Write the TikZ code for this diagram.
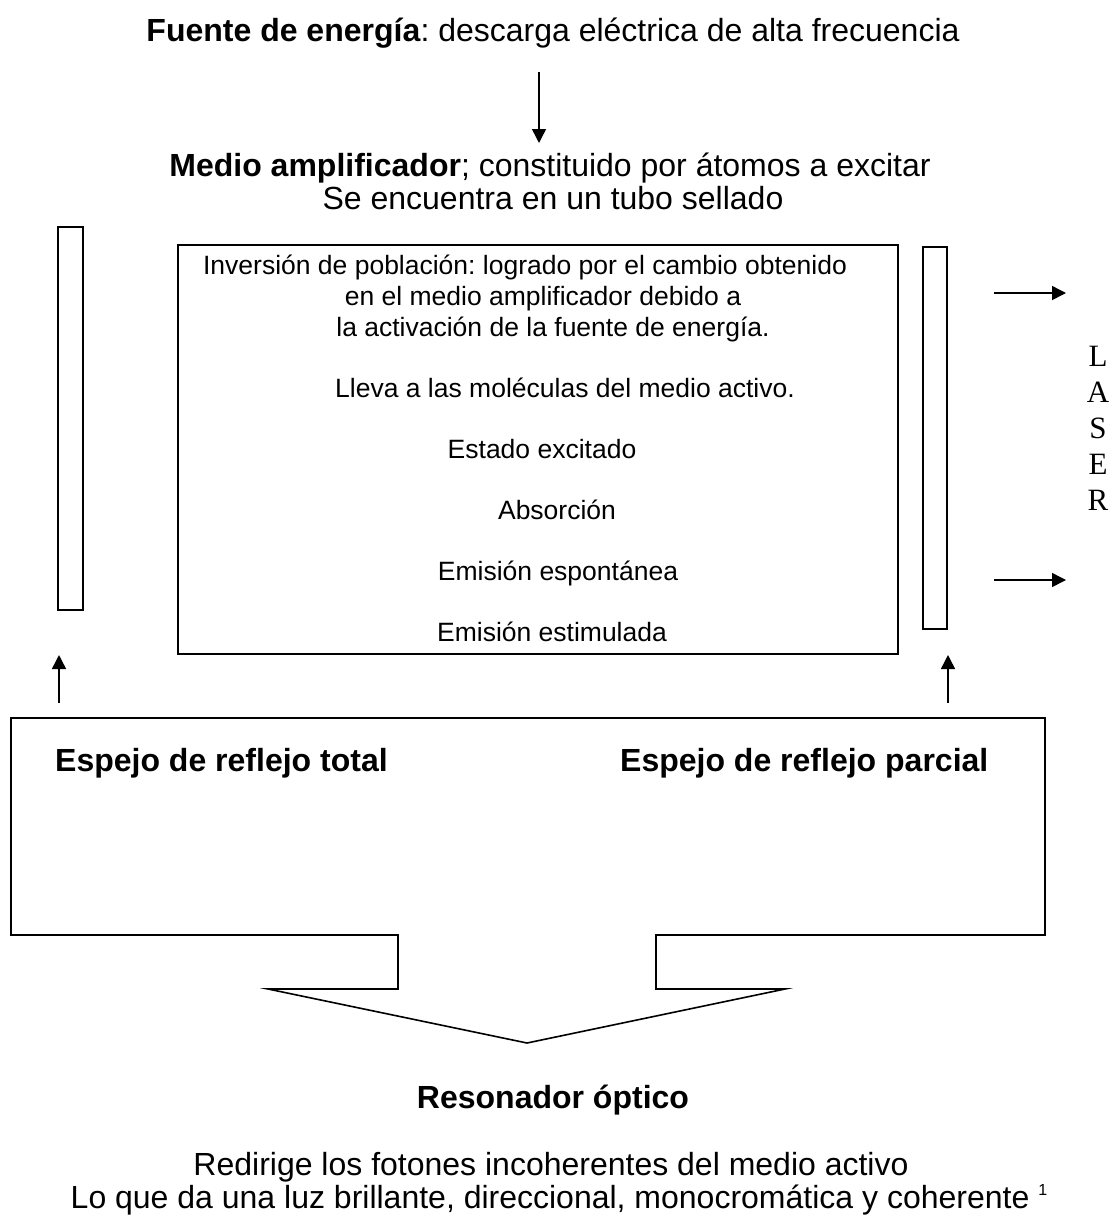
\documentclass[tikz,border=0pt]{standalone}
\usepackage{fontspec}
\setmainfont{Liberation Sans}
\newfontfamily\laserfont{Liberation Serif}
\usetikzlibrary{arrows.meta}
\frenchspacing
\begin{document}
\begin{tikzpicture}[x=1pt,y=-1pt,
  main/.style={inner sep=0pt, anchor=base, font=\fontsize{32}{33}\selectfont},
  mainw/.style={inner sep=0pt, anchor=base west, font=\fontsize{32}{33}\selectfont},
  small/.style={inner sep=0pt, anchor=base, font=\fontsize{26.5}{31}\selectfont},
  arr/.style={-{Triangle[length=14pt,width=14pt]}, line width=1.5pt},
  boxline/.style={draw, line width=1.6pt, inner sep=0pt}]
\useasboundingbox (0,0) rectangle (1119,1221);

% top texts
\node[main] (fuente) at (553,41) {\textbf{Fuente de energía}: descarga eléctrica de alta frecuencia};
\coordinate (a1s) at (539,72);
\coordinate (a1e) at (539,143);
\draw[arr] (a1s) -- (a1e);
\node[main] (medio) at (550,176) {\textbf{Medio amplificador}; constituido por átomos a excitar};
\node[main] (tubo) at (553,209) {Se encuentra en un tubo sellado};

% mirrors and main box
\node[boxline, minimum width=25pt, minimum height=383pt] (lmirror) at (70.5,418.5) {};
\node[boxline, minimum width=24pt, minimum height=382pt] (rmirror) at (935,438) {};
\node[boxline, minimum width=720pt, minimum height=409pt] (medbox) at (538,449.5) {};

\node[small] (t1) at (525,274) {Inversión de población: logrado por el cambio obtenido};
\node[small] (t2) at (543,305) {en el medio amplificador debido a};
\node[small] (t3) at (553,336) {la activación de la fuente de energía.};
\node[small] (t4) at (565,397) {Lleva a las moléculas del medio activo.};
\node[small] (t5) at (542,458) {Estado excitado};
\node[small] (t6) at (557,519) {Absorción};
\node[small] (t7) at (558,580) {Emisión espontánea};
\node[small] (t8) at (552,641) {Emisión estimulada};

% laser output
\coordinate (o1s) at (994,293);
\coordinate (o1e) at (1066,293);
\coordinate (o2s) at (994,580);
\coordinate (o2e) at (1066,580);
\draw[arr] (o1s) -- (o1e);
\draw[arr] (o2s) -- (o2e);
\node[inner sep=0pt, anchor=north, font=\laserfont\fontsize{31}{36}\selectfont, align=center] (laser) at (1098,346) {L\\A\\S\\E\\R};

% up arrows
\coordinate (lus) at (59,703);
\coordinate (lue) at (59,655);
\coordinate (rus) at (948,703);
\coordinate (rue) at (948,655);
\draw[arr] (lus) -- (lue);
\draw[arr] (rus) -- (rue);

% callout
\draw[line width=1.6pt, line join=miter]
  (11,718) -- (1045,718) -- (1045,935) -- (656,935) -- (656,989) -- (785,989)
  -- (527,1043) -- (268,989) -- (398,989) -- (398,935) -- (11,935) -- cycle;
\node[mainw] (total) at (55,771) {\textbf{Espejo de reflejo total}};
\node[mainw] (parcial) at (620,771) {\textbf{Espejo de reflejo parcial}};

% bottom texts
\node[main] (reson) at (553,1108) {\textbf{Resonador óptico}};
\node[main] (redir) at (551,1175) {Redirige los fotones incoherentes del medio activo};
\node[main] (loque) at (559,1208) {Lo que da una luz brillante, direccional, monocromática y coherente \raisebox{13pt}{\fontsize{16}{16}\selectfont 1}};
\end{tikzpicture}
\end{document}
